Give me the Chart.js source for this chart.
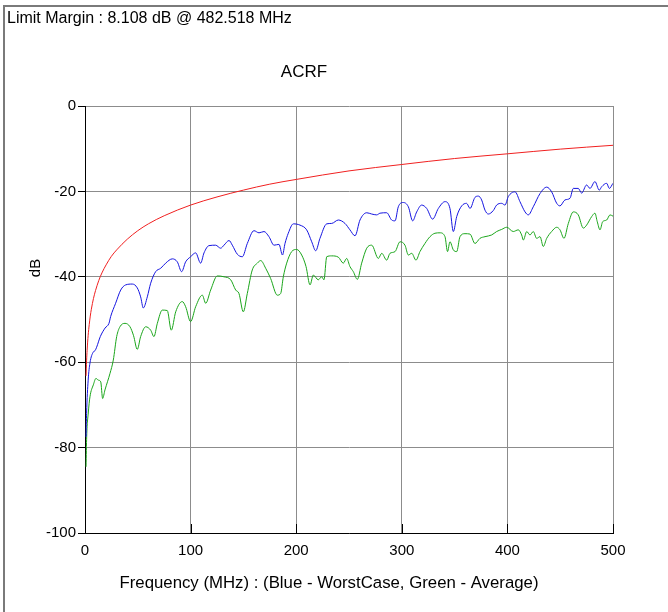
<!DOCTYPE html>
<html>
<head>
<meta charset="utf-8">
<script src="https://cdn.jsdelivr.net/npm/chart.js@4.4.1/dist/chart.umd.min.js"></script>
<style>
html,body{margin:0;padding:0;background:#fff;}
canvas{display:block;}
</style>
</head>
<body>
<canvas id="c" width="668" height="612"></canvas>
<script>
// ---- text ----
const headerText = "Limit Margin : 8.108 dB @ 482.518 MHz";
const titleText = "ACRF";
const xTitle = "Frequency (MHz) : (Blue - WorstCase, Green - Average)";
const yTitle = "dB";

// ---- tick labels ----
const xTicks = [0, 100, 200, 300, 400, 500];
const yTicks = [0, -20, -40, -60, -80, -100];

// ---- series: [frequency MHz, dB] ----
const limitLine = [
  [1,-63.2],[1.5,-59.7],[2,-57.2],[3,-53.7],[4,-51.2],[5,-49.2],[6,-47.6],[8,-45.1],
  [10,-43.2],[13,-40.9],[16,-39.1],[20,-37.2],[25,-35.2],[30,-33.7],[40,-31.2],
  [50,-29.2],[60,-27.6],[75,-25.7],[100,-23.2],[125,-21.3],[150,-19.7],[175,-18.3],
  [200,-17.2],[250,-15.2],[300,-13.7],[350,-12.3],[400,-11.2],[450,-10.1],[500,-9.2]
];

const worstCase = [
  [1,-77.5],[1.5,-72],[3,-64.2],[4.7,-60.2],[7.9,-57.6],[9.5,-57.3],[11,-56.5],[14.5,-54],
  [19,-52],[22.7,-50.9],[24.3,-49.3],[29,-46.2],[33.8,-43.1],[38.5,-41.9],[44.8,-41.7],
  [49.5,-42.6],[52.7,-44.7],[55.2,-47.3],[59,-44.7],[62.2,-41.5],[66.9,-38.8],[71.7,-38],
  [76.4,-36.8],[82.7,-35.8],[87.4,-36.5],[91.5,-38.8],[95.3,-36.5],[100,-35.3],[104.8,-34.4],
  [109.5,-36.8],[112.7,-34.4],[117.4,-32.7],[123.7,-32.6],[128.5,-33.3],[131.6,-32.6],
  [136.4,-31.5],[139.5,-32.6],[144.2,-34.7],[149,-35.3],[153.7,-32.2],[160,-29.2],
  [164.8,-29.7],[169.5,-29.4],[174.2,-30.6],[179,-32.6],[183.7,-32.4],[187,-34.9],
  [189.4,-32.2],[192.5,-29.8],[197.3,-27.6],[203.6,-27.9],[209.9,-29],[214.7,-31.8],
  [218.5,-33.9],[222.5,-31],[228.9,-27.6],[233.6,-27.5],[239.9,-26.7],[246.2,-27.5],
  [250.9,-29],[255.7,-30.4],[260.4,-26.7],[266.8,-25],[271.5,-25.3],[276.2,-25.5],
  [279.4,-25.1],[285.7,-25],[290.4,-26.7],[293.6,-26.9],[296.7,-23.6],[301.4,-22.6],
  [306.2,-23.6],[310.3,-26.9],[314.1,-24.8],[318.8,-23.2],[323.6,-24],[329.2,-26.5],
  [334.6,-24],[340.9,-22.4],[345.6,-24],[348.8,-29.4],[352,-25.9],[356.7,-23.4],
  [361.4,-22.8],[364.6,-24],[369.3,-21.4],[372.5,-21.1],[375.6,-22],[378.8,-24.4],
  [381.9,-25.3],[386.6,-24.5],[389.8,-23.2],[394.6,-22.8],[397.7,-23.2],[400.9,-21.2],
  [407.2,-20.1],[411.9,-22.4],[416.7,-24.8],[419.8,-25.5],[424.5,-23.6],[430.9,-20.5],
  [437.2,-19],[441.9,-20.1],[446.7,-22.8],[449.8,-23.4],[454.5,-22],[459.3,-21.6],
  [462.4,-19.3],[467.1,-19.3],[470.3,-20.4],[475,-18.5],[478.2,-19.3],[482.9,-17.7],
  [487,-19.7],[489.3,-18.9],[494,-18.1],[496.5,-19.3],[500,-18.1]
];

const average = [
  [1,-84.5],[1.6,-77.4],[3.1,-71.9],[4.7,-68.1],[7.9,-65.3],[10.4,-63.8],[12.6,-64.2],
  [14.9,-64.6],[16.7,-68.5],[18.9,-66.5],[23.7,-62.6],[26.8,-59.5],[30,-54],[33.1,-51.7],
  [37.9,-50.9],[42.6,-51.7],[46,-53.8],[49.5,-57],[52.7,-54],[57.5,-51.7],[62.2,-52.5],
  [65.3,-54],[68.5,-50.9],[73.2,-47.8],[77.9,-47.9],[81.7,-52.5],[85.9,-48.2],[92.1,-45.8],
  [95.3,-47],[100,-50.5],[104.8,-47],[111.1,-44.3],[114.3,-46.2],[119,-43.1],[125.3,-39.8],
  [131.6,-40],[138,-40.7],[142.7,-43.1],[145.8,-43.9],[149.9,-48.2],[153.7,-43.9],
  [158.4,-38.4],[163.2,-36.8],[166.4,-36.2],[171.1,-38],[175.8,-40.4],[182.1,-44.3],
  [185.3,-43.9],[187.8,-40],[191,-36.8],[195.7,-34.1],[200.5,-33.6],[205.2,-34.9],
  [209.3,-37.6],[213.1,-41.9],[216.2,-39.6],[220.9,-40.7],[224.1,-40],[226.3,-40.7],
  [228.9,-35.3],[233.6,-35.1],[239.9,-35.4],[244.6,-36.8],[247.8,-35.7],[250.9,-37.6],
  [254.1,-38.8],[257.9,-40.6],[262,-36.8],[266.8,-33.3],[271.5,-32.6],[277.8,-35.7],
  [281,-34.5],[285.7,-36.1],[288.8,-34.5],[293.6,-34.1],[298.3,-31.8],[303,-32.6],
  [306.2,-34.9],[309.4,-34.5],[313.4,-36.1],[317.2,-34.1],[321.9,-32.2],[326.7,-30.6],
  [331.4,-29.8],[336.2,-29.7],[340.9,-30.6],[343.3,-34.1],[345.6,-31.8],[348.8,-33.7],
  [352,-34.1],[355.1,-30.6],[359.8,-29.9],[364.6,-30],[369.3,-32.2],[374,-31],
  [378.8,-30.6],[385.1,-30.2],[389.8,-29.4],[394.6,-28.9],[399.3,-28.4],[405.6,-29.4],
  [410.3,-29],[413.5,-30.2],[415.1,-31.4],[418.3,-29.4],[421.4,-30.2],[424.5,-29.4],
  [427.7,-31],[430.9,-30.6],[434,-32.9],[437.2,-31],[441.9,-29.4],[446.7,-28.4],
  [449.8,-29],[453.6,-31],[457.7,-27.5],[462.4,-24.8],[467.1,-25.5],[471.9,-28.6],
  [475,-27.9],[479.8,-25.9],[482.9,-25.1],[485.1,-27.1],[487.7,-29],[490.2,-27.1],
  [494,-26.7],[497.2,-25.5],[500,-25.8]
];

const toPts = arr => arr.map(p => ({x: p[0], y: p[1]}));
const FONT = "'Liberation Sans', Arial, sans-serif";

const decor = {
  id: 'decor',
  afterDraw(chart) {
    const ctx = chart.ctx;
    const xs = chart.scales.x;
    const a = chart.chartArea;
    ctx.save();
    // outer frame (top and left)
    ctx.fillStyle = '#7a7a7a';
    ctx.fillRect(3, 5, 665, 2);
    ctx.fillRect(3, 5, 2, 607);
    // inner tick marks on x axis
    ctx.strokeStyle = '#000';
    ctx.lineWidth = 1;
    xTicks.forEach(v => {
      const px = Math.round(xs.getPixelForValue(v)) + 0.5;
      ctx.beginPath();
      ctx.moveTo(px, a.bottom);
      ctx.lineTo(px, a.bottom - 9);
      ctx.stroke();
    });
    // texts
    ctx.fillStyle = '#000';
    ctx.textBaseline = 'alphabetic';
    ctx.textAlign = 'left';
    ctx.font = '16px ' + FONT;
    ctx.fillText(headerText, 7, 23);
    ctx.textAlign = 'center';
    ctx.textBaseline = 'middle';
    ctx.font = '17px ' + FONT;
    ctx.fillText(titleText, 304, 72);
    ctx.font = '16.8px ' + FONT;
    ctx.fillText(xTitle, 329, 583);
    ctx.translate(36, 268);
    ctx.rotate(-Math.PI / 2);
    ctx.font = '15px ' + FONT;
    ctx.fillText(yTitle, 0, 0);
    ctx.restore();
  }
};

new Chart(document.getElementById('c'), {
  type: 'scatter',
  data: {
    datasets: [
      { label: 'Limit', data: toPts(limitLine), showLine: true, borderColor: '#f02020',
        borderWidth: 1, pointRadius: 0, cubicInterpolationMode: 'monotone', order: 3 },
      { label: 'Average', data: toPts(average), showLine: true, borderColor: '#1aa51a',
        borderWidth: 1, pointRadius: 0, cubicInterpolationMode: 'monotone', order: 2 },
      { label: 'WorstCase', data: toPts(worstCase), showLine: true, borderColor: '#1515e0',
        borderWidth: 1, pointRadius: 0, cubicInterpolationMode: 'monotone', order: 1 }
    ]
  },
  options: {
    responsive: false,
    animation: false,
    devicePixelRatio: 1,
    layout: { padding: { left: 5, top: 106, right: 55, bottom: 0 } },
    plugins: { legend: { display: false }, tooltip: { enabled: false }, title: { display: false } },
    scales: {
      x: {
        type: 'linear', min: 0, max: 500,
        afterBuildTicks: s => { s.ticks = xTicks.map(v => ({ value: v })); },
        afterFit: s => { s.height = 79; },
        grid: { color: '#8c8c8c', lineWidth: 1, drawTicks: false },
        border: { color: '#000', width: 1 },
        ticks: { color: '#000', font: { family: FONT, size: 15 }, padding: 9, maxRotation: 0,
                 callback: v => String(v) }
      },
      y: {
        type: 'linear', min: -100, max: 0,
        afterBuildTicks: s => { s.ticks = yTicks.map(v => ({ value: v })); },
        afterFit: s => { s.width = 80; },
        grid: { color: '#8c8c8c', lineWidth: 1, drawTicks: true, tickLength: 7, tickColor: '#000' },
        border: { color: '#000', width: 1 },
        ticks: { color: '#000', font: { family: FONT, size: 15 }, padding: 2,
                 callback: v => String(v) }
      }
    }
  },
  plugins: [decor]
});
</script>
</body>
</html>
